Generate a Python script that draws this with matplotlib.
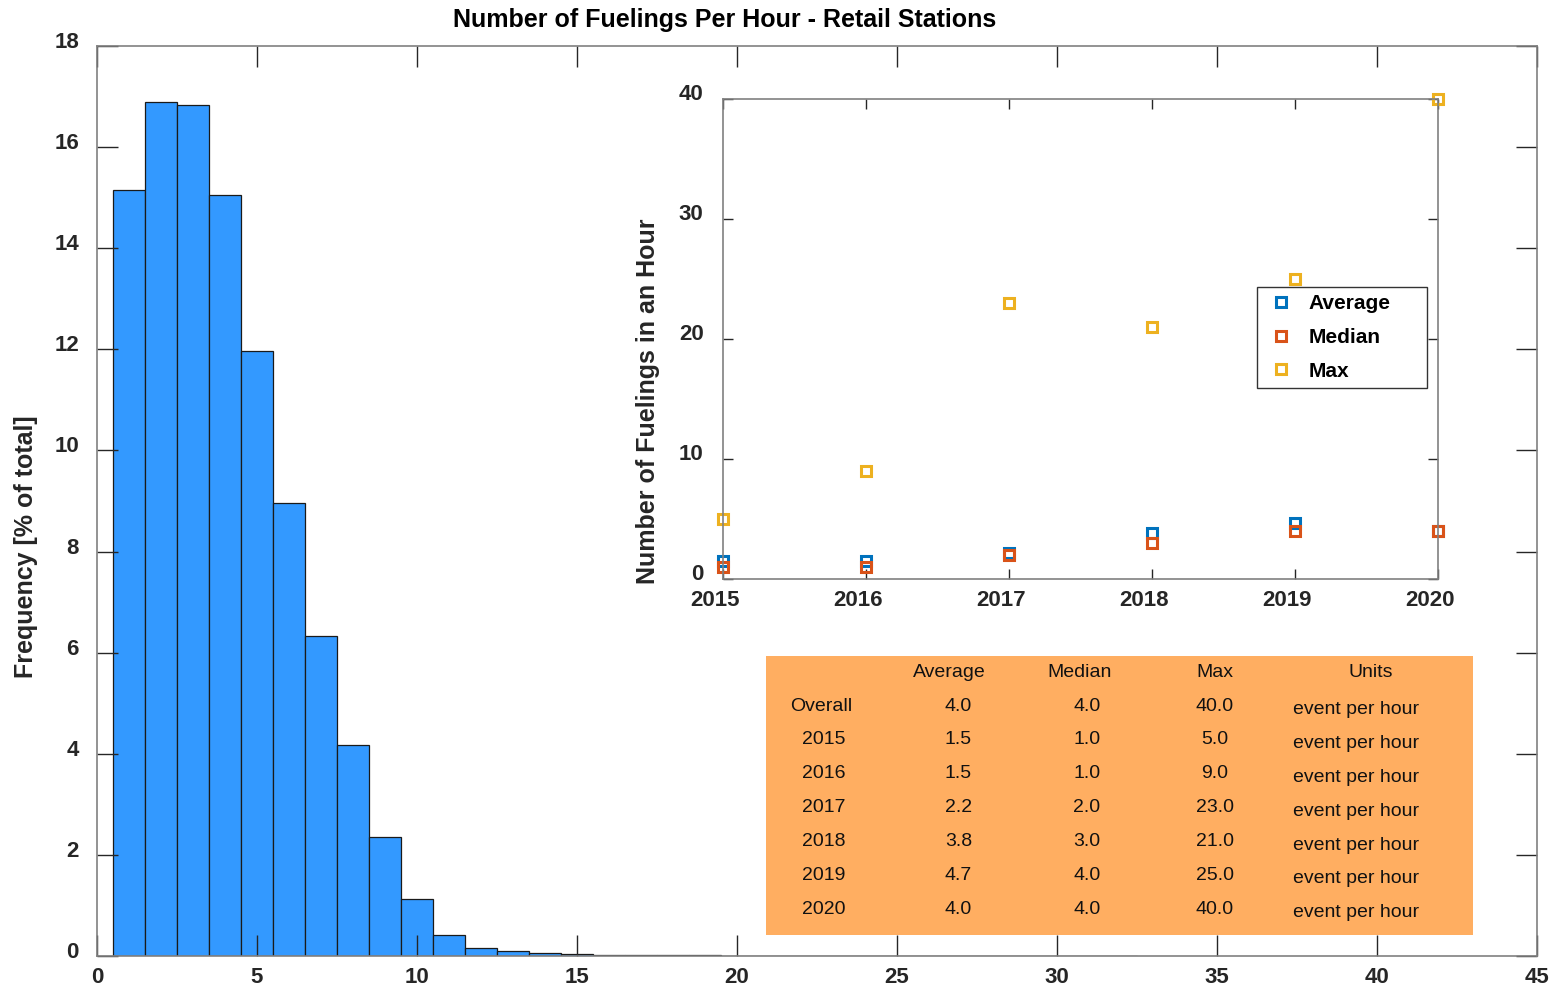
import numpy as np
import matplotlib.pyplot as plt
from matplotlib import font_manager
from matplotlib.transforms import ScaledTranslation
from matplotlib.patches import Rectangle

# histogram: share of hours with n fuelings (bins centred on integers)
bin_centers = np.arange(1, 33)
freq = [15.15, 16.89, 16.83, 15.05, 11.97, 8.96, 6.33, 4.17, 2.35, 1.12,
        0.41, 0.15, 0.10, 0.05, 0.03, 0.02, 0.015, 0.012, 0.01, 0.008,
        0.006, 0.005, 0.004, 0.004, 0.003, 0.003, 0.002, 0.002, 0.002, 0.001,
        0.001, 0.001]

# yearly stats
years = [2015, 2016, 2017, 2018, 2019, 2020]
avg = [1.5, 1.5, 2.2, 3.8, 4.7, 4.0]
med = [1.0, 1.0, 2.0, 3.0, 4.0, 4.0]
mx = [5.0, 9.0, 23.0, 21.0, 25.0, 40.0]
overall = (4.0, 4.0, 40.0)
units = 'event per hour'

BLUE, RED, YELLOW = '#0072BD', '#D95319', '#EDB120'
AX_COL = '#262626'

names = {f.name for f in font_manager.fontManager.ttflist}
NARROW = 'Liberation Sans Narrow' if 'Liberation Sans Narrow' in names else 'Liberation Sans'
plt.rcParams['font.family'] = ['Liberation Sans', 'DejaVu Sans']

fig = plt.figure(figsize=(15.51, 9.88), dpi=100)
W, H = 1551, 988


def px_axes(l, t, r, b):
    return fig.add_axes([l / W, 1 - b / H, (r - l) / W, (b - t) / H])


def style(ax, size, length):
    ax.tick_params(direction='in', length=length, width=1, colors=AX_COL,
                   top=True, right=True, labelsize=size)
    for lab in ax.get_xticklabels() + ax.get_yticklabels():
        lab.set_fontfamily(NARROW)
        lab.set_fontweight('bold')
    for s in ax.spines.values():
        s.set_color('#808080')
        s.set_linewidth(1.2)


# main histogram
ax = px_axes(97, 46, 1537, 956)
ax.bar(bin_centers, freq, width=1.0, color='#3399FF', edgecolor='#1a1a1a', linewidth=0.9)
ax.set_xlim(0, 45)
ax.set_ylim(0, 18)
ax.set_xticks(np.arange(0, 46, 5))
ax.set_yticks(np.arange(0, 19, 2))
style(ax, 16, 15)
ax.tick_params(axis='y', pad=13)
ax.tick_params(axis='x', pad=8)
off = ScaledTranslation(0, 6 / 100, fig.dpi_scale_trans)
for lab in ax.get_yticklabels():
    lab.set_transform(lab.get_transform() + off)
ax.set_ylabel('Frequency [% of total]', fontsize=18, fontweight='bold', color=AX_COL)
ax.yaxis.set_label_coords(-0.041, 0.45)
ax.set_title('Number of Fuelings Per Hour - Retail Stations', fontsize=18,
             fontweight='bold', pad=14, x=0.436)

# inset: yearly average / median / max
ins = px_axes(723, 99, 1438, 579)
ins.set_facecolor('white')
mk = dict(marker='s', linestyle='none', markersize=7, markerfacecolor='none', markeredgewidth=2.2)
ins.plot(years, avg, color=BLUE, label='Average', **mk)
ins.plot(years, med, color=RED, label='Median', **mk)
ins.plot(years, mx, color=YELLOW, label='Max', **mk)
ins.set_xlim(2015, 2020)
ins.set_ylim(0, 40)
ins.set_xticks(years)
ins.set_yticks(np.arange(0, 41, 10))
for line in ins.get_lines():
    line.set_clip_on(False)
style(ins, 16, 7)
ins.tick_params(axis='y', pad=14)
ins.tick_params(axis='x', pad=8)
off2 = ScaledTranslation(0, 7 / 100, fig.dpi_scale_trans)
for lab in ins.get_yticklabels():
    lab.set_transform(lab.get_transform() + off2)
offx = ScaledTranslation(-8 / 100, 0, fig.dpi_scale_trans)
for lab in ins.get_xticklabels():
    lab.set_transform(lab.get_transform() + offx)
ins.set_ylabel('Number of Fuelings in an Hour', fontsize=18, fontweight='bold', color=AX_COL)
ins.yaxis.set_label_coords(-0.088, 0.371)
leg = ins.legend(loc='upper left', bbox_to_anchor=(0.747, 0.394, 0.238, 0.214), mode='expand',
                 fancybox=False, framealpha=1, edgecolor='#333333',
                 prop={'weight': 'bold', 'size': 15},
                 handletextpad=0.5, labelspacing=0.7, borderpad=0.35, handlelength=1.6,
                 borderaxespad=0)
leg.get_frame().set_linewidth(1.0)

# stats table
tab = px_axes(766, 656, 1473, 935)
tab.set_xlim(0, 1)
tab.set_ylim(1, 0)
tab.axis('off')
tab.add_patch(Rectangle((0, 0), 1, 1, transform=tab.transAxes, facecolor='#FFAE61',
                        edgecolor='none', zorder=0))
col_x = [0.078, 0.26, 0.444, 0.635, 0.855]
row_y0, row_dy = 0.058, 0.1215
tf = dict(fontfamily=NARROW, fontsize=14, ha='center', va='center', color='#111111')
for x, h in zip(col_x[1:], ['Average', 'Median', 'Max', 'Units']):
    tab.text(x, row_y0, h, **tf)
rows = [('Overall',) + overall] + [(str(y), a, m, x) for y, a, m, x in zip(years, avg, med, mx)]
for i, (name, a, m, x) in enumerate(rows):
    y = row_y0 + (i + 1) * row_dy
    tab.text(col_x[0] + (0.004 if i else 0), y, name, **tf)
    tab.text(col_x[1] + 0.012, y, f'{a:.1f}', **tf)
    tab.text(col_x[2] + 0.01, y, f'{m:.1f}', **tf)
    tab.text(col_x[3], y, f'{x:.1f}', **tf)
    tab.text(col_x[4] - 0.02, y + 0.012, units, **tf)

fig.savefig('out.png', dpi=100)
